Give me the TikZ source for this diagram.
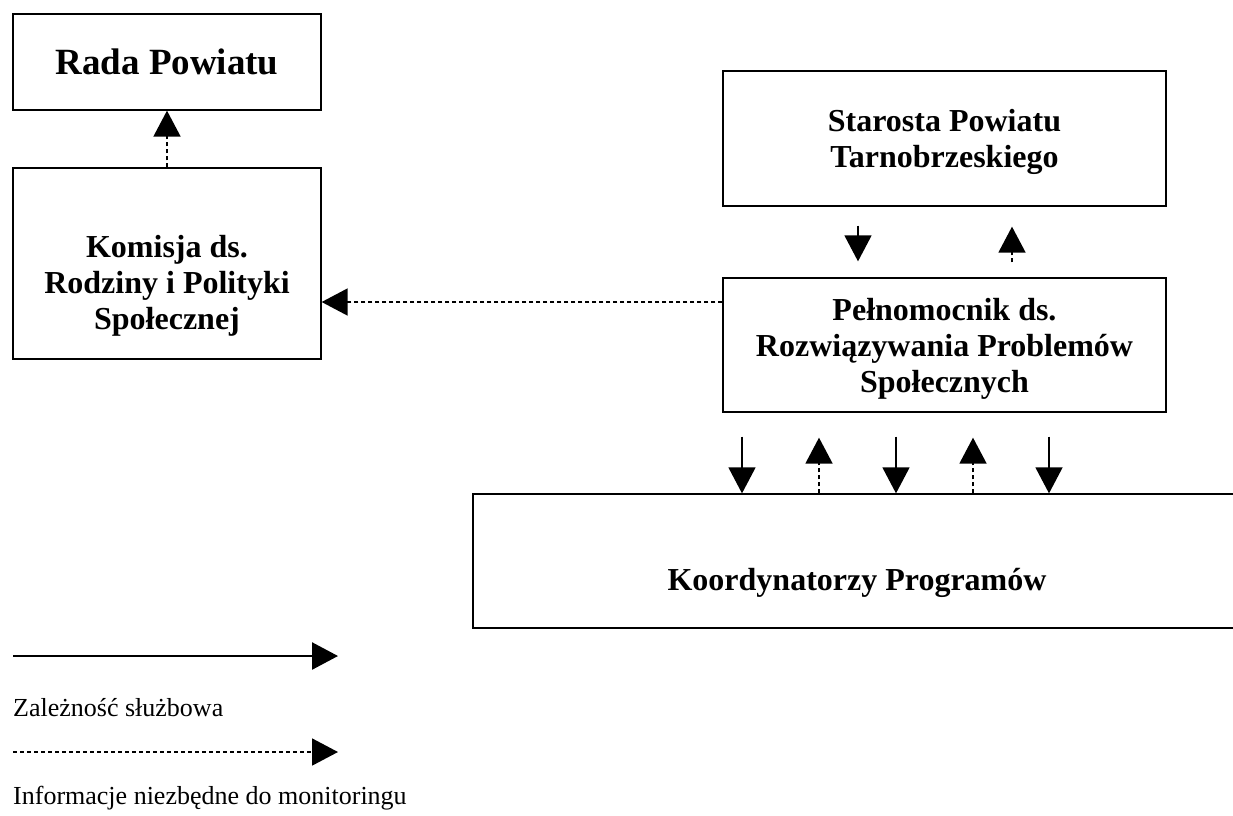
\documentclass[tikz,border=0pt]{standalone}
\usepackage{fontspec}
\setmainfont{Liberation Serif}
\usepackage{tikz}
\usetikzlibrary{positioning, arrows.meta}

\newcommand{\boxstrut}{\rule{0pt}{30pt}}

\begin{document}
\begin{tikzpicture}[x=1pt, y=-1pt,
    boxnode/.style={rectangle, draw=black, line width=1.3pt, inner sep=0pt, align=center, font=\bfseries\fontsize{32}{36}\selectfont},
    dutyarrow/.style={-{Triangle[length=26pt, width=27pt]}, line width=1.5pt},
    infoarrow/.style={-{Triangle[length=26pt, width=27pt]}, line width=1.8pt, dash pattern=on 4pt off 3pt},
    legendtext/.style={anchor=base west, inner sep=0pt, font=\fontsize{26}{30}\selectfont},
    ]
    \clip (0,0) rectangle (1233,815);

    \node[boxnode, minimum width=308pt, minimum height=96pt, font=\bfseries\fontsize{37}{44}\selectfont] (rada) at (167,62) {Rada Powiatu};
    \node[boxnode, minimum width=308pt, minimum height=191pt] (komisja) at (167,263.5) {\boxstrut\\Komisja ds.\\Rodziny i Polityki\\Społecznej};
    \node[boxnode, minimum width=443pt, minimum height=135pt] (starosta) at (944.5,138.5) {\boxstrut Starosta Powiatu\\Tarnobrzeskiego};
    \node[boxnode, minimum width=443pt, minimum height=134pt] (pelnom) at (944.5,345) {\boxstrut Pełnomocnik ds.\\Rozwiązywania Problemów\\Społecznych};
    \node[boxnode, minimum width=768pt, minimum height=134pt] (koord) at (857,561) {\boxstrut\\Koordynatorzy Programów};

    \draw[infoarrow] (komisja) -- (rada);
    \draw[infoarrow] ([yshift=43pt]pelnom.west) -- ([yshift=43pt]pelnom.west -| komisja.east);

    \draw[dutyarrow, shorten <=19pt, shorten >=16pt] ([xshift=-86.5pt]starosta.south) -- ([xshift=-86.5pt]pelnom.north);
    \draw[infoarrow, shorten <=15pt, shorten >=20pt] ([xshift=67.5pt]pelnom.north) -- ([xshift=67.5pt]starosta.south);

    \foreach \dx in {-202.5,-48.5,104.5}
        \draw[dutyarrow, shorten <=24pt] ([xshift=\dx pt]pelnom.south) -- ([xshift=\dx pt]pelnom.south |- koord.north);
    \foreach \dx in {-125.5,28.5}
        \draw[infoarrow, shorten >=25pt] ([xshift=\dx pt]pelnom.south |- koord.north) -- ([xshift=\dx pt]pelnom.south);

    % legenda
    \coordinate (duty1) at (13,656);
    \coordinate (duty2) at (338,656);
    \coordinate (info1) at (13,752);
    \coordinate (info2) at (338,752);
    \draw[dutyarrow, line width=2.5pt] (duty1) -- (duty2);
    \node[legendtext] (dutytext) at (13,716) {Zależność służbowa};
    \draw[infoarrow] (info1) -- (info2);
    \node[legendtext] (infotext) at (13,804) {Informacje niezbędne do monitoringu};
\end{tikzpicture}
\end{document}
